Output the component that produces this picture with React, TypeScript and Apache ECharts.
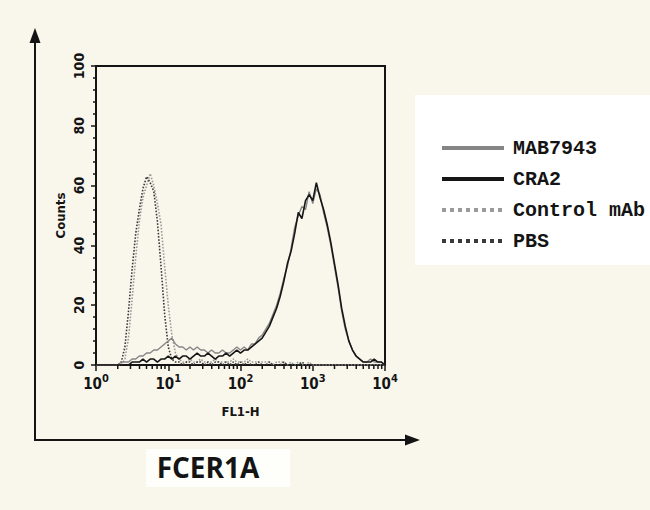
import React, { useEffect, useRef } from "react";
import * as echarts from "echarts";

// FL1-H channel positions, as powers of ten (10^0 .. 10^4)
const fl1Exponents = [
  0, 0.05, 0.1, 0.15, 0.2, 0.25, 0.3, 0.35, 0.4, 0.45, 0.5, 0.55, 0.6, 0.65, 0.7, 0.75, 0.8, 0.85, 0.9, 0.95,
  1, 1.05, 1.1, 1.15, 1.2, 1.25, 1.3, 1.35, 1.4, 1.45, 1.5, 1.55, 1.6, 1.65, 1.7, 1.75, 1.8, 1.85, 1.9, 1.95,
  2, 2.05, 2.1, 2.15, 2.2, 2.25, 2.3, 2.35, 2.4, 2.45, 2.5, 2.55, 2.6, 2.65, 2.7, 2.75, 2.8, 2.85, 2.9, 2.95,
  3, 3.05, 3.1, 3.15, 3.2, 3.25, 3.3, 3.35, 3.4, 3.45, 3.5, 3.55, 3.6, 3.65, 3.7, 3.75, 3.8, 3.85, 3.9, 3.95,
  4,
];

const mab7943Counts = [
  0, 0, 0, 0, 0, 0, 0,
  1, 1, 1, 2, 2, 3, 3, 4, 4, 5, 5, 6, 7, 8, 9, 7, 6, 6, 5, 6, 5, 6, 5, 5, 4, 5, 4, 4, 5, 4, 4, 5, 6,
  5, 6, 5, 7, 7, 9, 10, 12, 14, 17, 20, 24, 29, 33, 39, 46, 50, 53, 52, 58, 54, 59, 57, 51, 46, 40, 33, 26, 18, 12,
  8, 5, 3, 2, 1, 1, 2, 1, 1, 1, 0,
];

const cra2Counts = [
  0, 0, 0, 0, 0, 0, 0, 0, 0, 0,
  1, 1, 1, 2, 1, 2, 2, 1, 2, 2, 3, 2, 3, 2, 3, 3, 2, 3, 4, 3, 3, 4, 3, 2, 3, 3, 4, 3, 4, 5,
  4, 5, 5, 6, 7, 8, 9, 11, 13, 16, 19, 23, 28, 34, 38, 44, 51, 49, 55, 57, 55, 61, 56, 52, 47, 41, 34, 27, 19, 13,
  8, 5, 3, 2, 1, 1, 1, 2, 1, 1, 0,
];

const controlMabCounts = [
  0, 0, 0, 0, 0, 0, 0, 0,
  2, 9, 22, 36, 48, 56, 60, 64, 60, 54, 47, 33, 20, 10, 4, 2,
  1, 1, 2, 1, 1, 2, 1, 1, 1, 2, 1, 1, 1, 1, 2, 1,
  1, 1, 2, 1, 1, 1, 1, 1, 1, 0, 1, 1, 1, 0, 1, 0, 1, 0, 0, 1,
  0, 0, 0, 0, 0, 0, 0, 0, 0, 0, 0, 0, 0, 0, 0, 0, 0, 0, 0, 0, 0,
];

const pbsCounts = [
  0, 0, 0, 0, 0, 0, 0,
  1, 6, 18, 32, 44, 52, 59, 63, 61, 58, 48, 33, 17, 6, 2, 1,
  1, 0, 1, 1, 0, 1, 1, 0, 1, 0, 1, 1, 0, 1, 0, 1, 0,
  1, 0, 1, 0, 0, 1, 0, 0, 1, 0, 0, 0, 1, 0, 0, 0, 0, 1, 0, 0,
  0, 0, 0, 0, 0, 0, 0, 0, 0, 0, 0, 0, 0, 0, 0, 0, 0, 0, 0, 0, 0,
];

const seriesNames = ["MAB7943", "CRA2", "Control mAb", "PBS"];
const minorTickValues = [
  2, 3, 4, 5, 6, 7, 8, 9,
  20, 30, 40, 50, 60, 70, 80, 90,
  200, 300, 400, 500, 600, 700, 800, 900,
  2000, 3000, 4000, 5000, 6000, 7000, 8000, 9000,
];
const titleText = "FCER1A";

const BG = "#f9f7ec";
const INK = "#141414";
const AXIS_FONT = '"DejaVu Sans Condensed", "Liberation Sans Narrow", sans-serif';

function pairs(counts: number[]) {
  return fl1Exponents.map((e, i) => [Math.pow(10, e), counts[i]]);
}

export default function App() {
  const ref = useRef<HTMLDivElement>(null);

  useEffect(() => {
    if (!ref.current) return;
    const chart = echarts.init(ref.current, null, { renderer: "svg" });

    const lineSeries = (name: string, counts: number[], color: string, type: string, width: number) => ({
      name,
      type: "line",
      data: pairs(counts),
      symbol: "none",
      showSymbol: false,
      smooth: false,
      lineStyle: { color, type, width },
      itemStyle: { color },
      z: 3,
    });

    chart.setOption({
      animation: false,
      backgroundColor: BG,
      grid: {
        left: 96,
        right: 265,
        top: 66,
        bottom: 145,
        show: true,
        borderColor: INK,
        borderWidth: 2,
        backgroundColor: BG,
      },
      legend: {
        data: seriesNames,
        orient: "vertical",
        left: 415,
        top: 95,
        padding: [43, 30, 14, 25],
        backgroundColor: "#ffffff",
        itemWidth: 62,
        itemHeight: 14,
        itemGap: 11,
        itemStyle: { opacity: 0 },
        lineStyle: { width: 4 },
        textStyle: {
          fontSize: 20,
          fontWeight: "bold",
          fontFamily: '"Liberation Mono", "DejaVu Sans Mono", monospace',
          color: INK,
          padding: [0, 0, 0, 4],
        },
      },
      xAxis: {
        type: "log",
        logBase: 10,
        min: 1,
        max: 10000,
        name: "FL1-H",
        nameLocation: "middle",
        nameGap: 40,
        nameTextStyle: { fontSize: 13, fontWeight: "bold", color: INK, fontFamily: AXIS_FONT },
        axisLine: { lineStyle: { color: INK, width: 2 } },
        axisTick: { length: 6, lineStyle: { color: INK, width: 1.5 } },
        minorTick: { show: false },
        splitLine: { show: false },
        axisLabel: {
          margin: 8,
          color: INK,
          formatter: (v: number) => `{b|10}{s|${Math.round(Math.log10(v))}}`,
          rich: {
            b: { fontSize: 15, fontWeight: "bold", fontFamily: AXIS_FONT, color: INK, lineHeight: 18, verticalAlign: "bottom" },
            s: { fontSize: 11, fontWeight: "bold", fontFamily: AXIS_FONT, color: INK, lineHeight: 18, verticalAlign: "top" },
          },
        },
      },
      yAxis: {
        type: "value",
        min: 0,
        max: 100,
        interval: 20,
        name: "Counts",
        nameLocation: "middle",
        nameGap: 29,
        nameTextStyle: { fontSize: 13, fontWeight: "bold", color: INK, fontFamily: AXIS_FONT },
        axisLine: { show: true, lineStyle: { color: INK, width: 2 } },
        axisTick: { show: true, length: 5, lineStyle: { color: INK, width: 1.5 } },
        minorTick: { show: true, splitNumber: 5, length: 3, lineStyle: { color: INK, width: 1.5 } },
        splitLine: { show: false },
        axisLabel: {
          rotate: 90,
          margin: 10,
          color: INK,
          fontSize: 14,
          fontWeight: "bold",
          fontFamily: AXIS_FONT,
        },
      },
      series: [
        lineSeries("Control mAb", controlMabCounts, "#9a9a9a", "dotted", 1.6),
        lineSeries("PBS", pbsCounts, "#3a3a3a", "dotted", 1.6),
        lineSeries("MAB7943", mab7943Counts, "#858585", "solid", 1.4),
        lineSeries("CRA2", cra2Counts, "#161616", "solid", 1.6),
        {
          type: "custom",
          silent: true,
          data: minorTickValues.map((v) => [v, 0]),
          renderItem: (_params: any, api: any) => {
            const p = api.coord([api.value(0), 0]);
            return {
              type: "line",
              shape: { x1: p[0], y1: p[1], x2: p[0], y2: p[1] + 4 },
              style: { stroke: INK, lineWidth: 1.5 },
            };
          },
          z: 4,
        },
      ],
      graphic: [
        {
          type: "line",
          shape: { x1: 35, y1: 441, x2: 35, y2: 40 },
          style: { stroke: INK, lineWidth: 2 },
        },
        {
          type: "polygon",
          shape: { points: [[35, 28], [29.5, 43], [40.5, 43]] },
          style: { fill: INK },
        },
        {
          type: "line",
          shape: { x1: 34, y1: 440, x2: 408, y2: 440 },
          style: { stroke: INK, lineWidth: 2 },
        },
        {
          type: "polygon",
          shape: { points: [[420, 440], [405, 434.5], [405, 445.5]] },
          style: { fill: INK },
        },
        {
          type: "rect",
          shape: { x: 146, y: 449, width: 144, height: 38 },
          style: { fill: "#fefefa" },
        },
        {
          type: "text",
          x: 208,
          y: 467,
          style: {
            text: titleText,
            fontSize: 28,
            fontWeight: "bold",
            fontFamily: '"Open Sans", "Noto Sans", sans-serif',
            fill: INK,
            textAlign: "center",
            textVerticalAlign: "middle",
          },
        },
      ],
    });

    return () => chart.dispose();
  }, []);

  return (
    <div
      ref={ref}
      style={{ position: "fixed", left: 0, top: 0, width: 650, height: 510 }}
    />
  );
}
